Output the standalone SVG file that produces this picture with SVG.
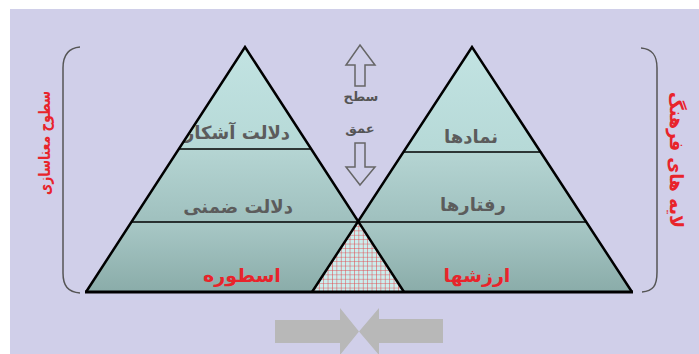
<svg xmlns="http://www.w3.org/2000/svg" width="699" height="354" viewBox="0 0 699 354">
<defs>
<linearGradient id="gTop" x1="0" y1="0" x2="0" y2="1"><stop offset="0" stop-color="#c2e3e2"/><stop offset="1" stop-color="#b6d9d7"/></linearGradient>
<linearGradient id="gMid" x1="0" y1="0" x2="0" y2="1"><stop offset="0" stop-color="#b5d5d3"/><stop offset="1" stop-color="#9fc0be"/></linearGradient>
<linearGradient id="gBot" x1="0" y1="0" x2="0" y2="1"><stop offset="0" stop-color="#a8c8c6"/><stop offset="1" stop-color="#8aaca9"/></linearGradient>
<pattern id="hatch" width="4.4" height="4.4" patternUnits="userSpaceOnUse" x="310" y="292">
<rect width="4.4" height="4.4" fill="#cbeeee"/>
<path d="M0 0H4.4M0 0V4.4" stroke="#e2464b" stroke-width="1" fill="none"/>
</pattern>
</defs>
<style>
.edge{fill:none;stroke:#000;stroke-width:2.5;stroke-linejoin:miter}
.div{stroke:#000;stroke-width:1.6}
.base{stroke:#000;stroke-width:3.2}
.gt{font-family:"DejaVu Sans",sans-serif;font-size:18px;font-weight:bold;fill:#5c5c5c;text-anchor:middle}
.rt{font-family:"DejaVu Sans",sans-serif;font-size:19px;font-weight:bold;fill:#e8242b;text-anchor:middle}
.st{font-family:"DejaVu Sans",sans-serif;font-size:13px;font-weight:bold;fill:#555;text-anchor:middle}
.side{font-family:"DejaVu Sans",sans-serif;font-weight:bold;fill:#e8242b;text-anchor:middle}
.brk{fill:none;stroke:#555;stroke-width:1.5}
.hollow{fill:#d0cfe9;stroke:#666;stroke-width:1.5;stroke-linejoin:miter}
.block{fill:#b8b8b8}
</style>
<rect x="0" y="0" width="699" height="354" fill="#ffffff"/>
<rect x="10" y="9" width="689" height="345" fill="#d0cfe9"/>

<g id="left-pyramid">
<polygon points="245,47 311,149 179,149" fill="url(#gTop)"/>
<polygon points="179,149 311,149 358,222 131.5,222" fill="url(#gMid)"/>
<polygon points="131.5,222 358,222 404,292 86,292" fill="url(#gBot)"/>
<text class="gt" x="237" y="139">دلالت آشکار</text>
<text class="gt" x="238" y="213">دلالت ضمنی</text>
<text class="rt" x="242" y="282">اسطوره</text>
</g>

<g id="right-pyramid">
<polygon points="472,47 540.5,152 403.5,152" fill="url(#gTop)"/>
<polygon points="403.5,152 540.5,152 586,222 358,222" fill="url(#gMid)"/>
<polygon points="358,222 586,222 632,292 312,292" fill="url(#gBot)"/>
<text class="gt" x="471" y="143">نمادها</text>
<text class="gt" x="473" y="211">رفتارها</text>
<text class="rt" x="477" y="282">ارزشها</text>
</g>

<g id="overlap">
<polygon points="312,292 358,222 404,292" fill="url(#hatch)"/>
</g>

<g id="outlines">
<polyline class="edge" points="86,292 245,47 404,292"/>
<polyline class="edge" points="312,292 472,47 632,292"/>
<line class="div" x1="179" y1="149" x2="311" y2="149"/>
<line class="div" x1="403.5" y1="152" x2="540.5" y2="152"/>
<line class="div" x1="131.5" y1="222" x2="586" y2="222"/>
<line class="base" x1="85" y1="292" x2="633" y2="292"/>
</g>

<g id="surface-depth">
<polygon class="hollow" points="360,45 375,65 365,65 365,86 355,86 355,65 346,65"/>
<text class="st" x="361" y="101">سطح</text>
<text class="st" x="360" y="133">عمق</text>
<polygon class="hollow" points="355,143 365,143 365,167 375,167 360,185 346,167 355,167"/>
</g>

<g id="brackets">
<path class="brk" d="M80,47 C68,48 63,55 63,68 V273 C63,286 68,292 80,293"/>
<path class="brk" d="M641,48 C653,49 657,56 657,68 V272 C657,286 653,291 642,292"/>
</g>

<g id="side-labels">
<text class="side" font-size="16" textLength="104" lengthAdjust="spacingAndGlyphs" transform="translate(50,143) rotate(-90)">سطوح معناسازی</text>
<text class="side" font-size="19" textLength="136" lengthAdjust="spacingAndGlyphs" transform="translate(670,160) rotate(90)">لایه های فرهنگ</text>
</g>

<g id="connectors">
<polygon class="block" points="275,320 340,320 340,308 359,331.5 340,355 340,343 275,343"/>
<polygon class="block" points="443,319 379,319 379,308 359,331.5 379,355 379,343 443,343"/>
</g>
</svg>
